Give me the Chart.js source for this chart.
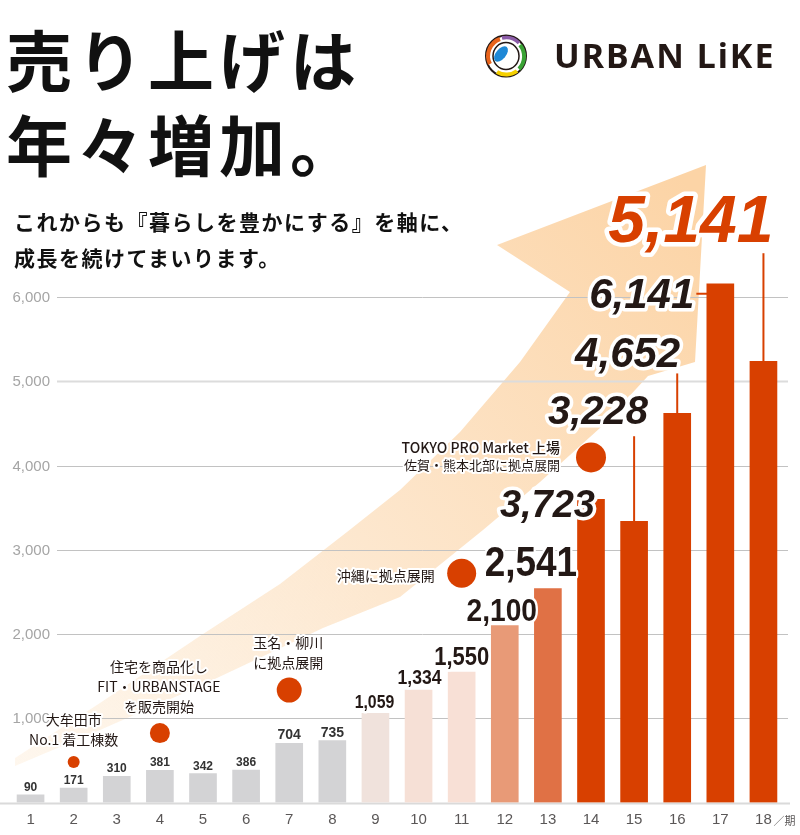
<!DOCTYPE html>
<html>
<head>
<meta charset="utf-8">
<script src="https://cdn.jsdelivr.net/npm/chart.js@4.4.0/dist/chart.umd.min.js"></script>
<style>
  body { margin: 0; background: #fff; }
  #wrap { position: relative; width: 800px; height: 835px; overflow: hidden; font-family: "Noto Sans CJK JP", sans-serif; color: #111; }
  #chart { position: absolute; left: 0; top: 0; }
  .title { position: absolute; left: 6px; top: 15px; font-size: 66px; font-weight: 700; line-height: 85px; letter-spacing: 5px; white-space: nowrap; }
  .lead { position: absolute; left: 14px; top: 203px; font-size: 21px; font-weight: 700; line-height: 36px; letter-spacing: 1.5px; white-space: nowrap; }
  .logo { position: absolute; left: 483px; top: 33px; }
  .brand { position: absolute; left: 554px; top: 32px; font-family: "Noto Sans", sans-serif; font-weight: 700; font-size: 34px; letter-spacing: 2px; color: #231815; }
</style>
</head>
<body>
<div id="wrap">
  <canvas id="chart" width="800" height="835"></canvas>
  <div class="title">売り上げは<br>年々増加。</div>
  <div class="lead">これからも『暮らしを豊かにする』を軸に、<br>成長を続けてまいります。</div>
  <svg class="logo" width="46" height="46" viewBox="0 0 46 46">
    <ellipse cx="23" cy="23" rx="20" ry="20.5" fill="#fff" stroke="#231815" stroke-width="2"/>
    <path d="M7 31 A18 18 0 0 1 17 6" fill="none" stroke="#e8641c" stroke-width="4"/>
    <path d="M19 5 A18 18 0 0 1 36 10" fill="none" stroke="#8b5ca8" stroke-width="3.5"/>
    <path d="M37 12 A18 18 0 0 1 36 36" fill="none" stroke="#3aa335" stroke-width="4"/>
    <path d="M34 38 A18 18 0 0 1 14 39" fill="none" stroke="#f5d000" stroke-width="4"/>
    <ellipse cx="23" cy="23" rx="13" ry="13.5" fill="none" stroke="#231815" stroke-width="1.5"/>
    <ellipse cx="18" cy="21" rx="5" ry="9" transform="rotate(40 18 21)" fill="#1e88d6"/>
  </svg>
  <div class="brand">URBAN LiKE</div>
</div>
<script>
// 期ごとの売上（百万円）
const periods = ['1', '2', '3', '4', '5', '6', '7', '8', '9', '10', '11', '12', '13', '14', '15', '16', '17', '18'];
const sales = [90, 171, 310, 381, 342, 386, 704, 735, 1059, 1334, 1550, 2100, 2541, 3600, 3340, 4620, 6160, 5240];
const salesLabels = ['90', '171', '310', '381', '342', '386', '704', '735', '1,059', '1,334', '1,550', '2,100', '2,541', '3,723', '3,228', '4,652', '6,141', '5,141'];
const yTicks = [1000, 2000, 3000, 4000, 5000, 6000];

// 出来事（丸印）
const milestoneValues = [null, 480, null, 824, null, null, 1335, null, null, null, 2722, null, null, 4098, null, null, null, null];
const milestoneNotes = [
  null,
  ['大牟田市', 'No.1 着工棟数'],
  null,
  ['住宅を商品化し', 'FIT・URBANSTAGE', 'を販売開始'],
  null, null,
  ['玉名・柳川', 'に拠点展開'],
  null, null, null,
  ['沖縄に拠点展開'],
  null, null,
  ['TOKYO PRO Market 上場', '佐賀・熊本北部に拠点展開'],
  null, null, null, null
];

// 見た目
const barColors = ['#d3d3d5', '#d3d3d5', '#d3d3d5', '#d3d3d5', '#d3d3d5', '#d3d3d5', '#d3d3d5', '#d3d3d5',
  '#f0e2dc', '#f6e0d6', '#f8e0d6', '#e89a77', '#e07145', '#d84000', '#d84000', '#d84000', '#d84000', '#d84000'];
const markerRadius = [0, 6, 0, 10, 0, 0, 12.5, 0, 0, 0, 14.5, 0, 0, 15, 0, 0, 0, 0];
const RED = '#d84000';
const INK = '#231815';

// ラベル位置（棒の中心・上端からのずれ）
const smallLabelStyle = [
  [12, 0, -4], [12, 0, -4], [12, 0, -4], [12, 0, -4], [12, 0, -4], [12, 0, -4],
  [14, 0, -4], [14, 0, -4], [18, -1, -5], [20, 1, -6], [25, 0, -7], [32, -3, -5], [42, -17, -13]
];
// [size, dxRight, dyBaseline, color, leader]
const bigLabelStyle = {
  13: [38, 4, 18, INK, null],
  14: [40, 14, -97, INK, ['v', -85]],
  15: [42, 3, -46, INK, ['v', -40]],
  16: [42, -26, 24, INK, ['h', 10]],
  17: [66, 10, -119, RED, ['v', -108]]
};
const noteOffsets = {
  1: ['center', 0, [-42, -22]],
  3: ['center', -1, [-66, -46, -26]],
  6: ['center', -1, [-47, -27]],
  10: ['right', -27, [2]],
  13: ['right', -31, [-10, 8]]
};

function drawArrow(ctx) {
  const upper = [[15, 758], [100, 703], [200, 636], [280, 584], [347, 532], [400, 490], [460, 432], [520, 362], [570, 292]];
  const lower = [[648, 376], [600, 428], [540, 482], [483, 530], [400, 597], [323, 628], [200, 686], [100, 730], [15, 766]];
  const g = ctx.createLinearGradient(0, 780, 700, 200);
  g.addColorStop(0, 'rgba(253,236,215,0.4)');
  g.addColorStop(0.45, '#fde8d0');
  g.addColorStop(1, '#fcd4a6');
  ctx.save();
  ctx.fillStyle = g;
  ctx.beginPath();
  upper.forEach((p, i) => i ? ctx.lineTo(p[0], p[1]) : ctx.moveTo(p[0], p[1]));
  ctx.lineTo(497, 245);
  ctx.lineTo(706, 165);
  ctx.lineTo(695, 362);
  lower.forEach(p => ctx.lineTo(p[0], p[1]));
  ctx.closePath();
  ctx.fill();
  ctx.restore();
}

function outlinedText(ctx, text, x, y, font, color, halo, sx) {
  ctx.save();
  ctx.translate(x, y);
  ctx.scale(sx || 1, 1);
  ctx.font = font;
  ctx.lineJoin = 'round';
  if (halo) {
    ctx.strokeStyle = '#fff';
    ctx.lineWidth = halo;
    ctx.strokeText(text, 0, 0);
  }
  ctx.fillStyle = color;
  ctx.fillText(text, 0, 0);
  ctx.restore();
}

const decor = {
  id: 'decor',
  beforeDatasetsDraw(chart) {
    const ctx = chart.ctx;
    const y = chart.scales.y;
    drawArrow(ctx);
    ctx.save();
    yTicks.forEach(v => {
      const py = Math.round(y.getPixelForValue(v)) + 0.5;
      ctx.strokeStyle = v === 5000 ? '#dcdcdc' : '#c2c2c2';
      ctx.lineWidth = v === 5000 ? 2 : 1;
      ctx.beginPath();
      ctx.moveTo(57, py);
      ctx.lineTo(788, py);
      ctx.stroke();
      ctx.fillStyle = '#a5a5a5';
      ctx.font = '15px "Liberation Sans", Arial, sans-serif';
      ctx.textAlign = 'right';
      ctx.textBaseline = 'middle';
      ctx.fillText(v.toLocaleString('en-US'), 50, py);
    });
    const base = y.getPixelForValue(0) + 1;
    ctx.strokeStyle = '#dadada';
    ctx.lineWidth = 2;
    ctx.beginPath();
    ctx.moveTo(0, base);
    ctx.lineTo(790, base);
    ctx.stroke();
    ctx.restore();
  },
  afterDatasetsDraw(chart) {
    const ctx = chart.ctx;
    const bars = chart.getDatasetMeta(1).data;
    const points = chart.getDatasetMeta(0).data;
    ctx.save();

    // x軸ラベル
    ctx.textBaseline = 'middle';
    bars.forEach((b, i) => {
      ctx.fillStyle = '#5a5757';
      ctx.font = '15px "Liberation Sans", Arial, sans-serif';
      ctx.textAlign = 'center';
      ctx.fillText(periods[i], b.x, 820);
      if (i === periods.length - 1) {
        ctx.textAlign = 'left';
        ctx.font = '11px "Noto Sans CJK JP", sans-serif';
        ctx.fillText('／期', b.x + 10, 821);
      }
    });

    // 出来事の文字
    ctx.textBaseline = 'middle';
    Object.keys(noteOffsets).forEach(k => {
      const i = +k;
      const p = points[i];
      const [align, dx, dys] = noteOffsets[k];
      ctx.textAlign = align;
      milestoneNotes[i].forEach((line, j) => {
        const size = (i === 13 && j === 1) ? 13 : 14;
        const weight = (i === 13 && j === 0) ? '500 ' : '';
        outlinedText(ctx, line, p.x + dx, p.y + dys[j], weight + size + 'px "Noto Sans CJK JP", sans-serif', INK, 4);
      });
    });

    // 棒ラベル 1〜13期
    ctx.textBaseline = 'alphabetic';
    ctx.textAlign = 'center';
    smallLabelStyle.forEach((s, i) => {
      const b = bars[i];
      const [size, dx, dy] = s;
      const big = size >= 18;
      outlinedText(ctx, salesLabels[i], b.x + dx, b.y + dy,
        'bold ' + size + 'px "Liberation Sans", Arial, sans-serif',
        i < 8 ? '#333' : INK, big ? 5 : 0, big ? 0.88 : 1);
    });

    // 棒ラベル 14〜18期
    ctx.textAlign = 'right';
    Object.keys(bigLabelStyle).forEach(k => {
      const i = +k;
      const b = bars[i];
      const [size, dx, dy, color, leader] = bigLabelStyle[k];
      if (leader) {
        ctx.strokeStyle = RED;
        ctx.lineWidth = 2;
        ctx.beginPath();
        if (leader[0] === 'v') {
          ctx.moveTo(b.x, b.y + leader[1]);
          ctx.lineTo(b.x, b.y);
        } else {
          ctx.moveTo(b.x - 24, b.y + leader[1]);
          ctx.lineTo(b.x - 13, b.y + leader[1]);
        }
        ctx.stroke();
      }
      outlinedText(ctx, salesLabels[i], b.x + dx, b.y + dy,
        'italic bold ' + size + 'px "Liberation Sans", Arial, sans-serif',
        color, size > 50 ? 9 : 7, 1);
    });
    ctx.restore();
  }
};

new Chart(document.getElementById('chart').getContext('2d'), {
  type: 'bar',
  data: {
    labels: periods,
    datasets: [
      {
        type: 'line',
        label: '出来事',
        data: milestoneValues,
        showLine: false,
        order: 1,
        pointRadius: ctx => markerRadius[ctx.dataIndex],
        pointHoverRadius: ctx => markerRadius[ctx.dataIndex],
        pointBackgroundColor: RED,
        pointBorderWidth: 0
      },
      {
        type: 'bar',
        label: '売上',
        data: sales,
        order: 2,
        backgroundColor: barColors,
        barThickness: 27
      }
    ]
  },
  options: {
    responsive: false,
    animation: false,
    events: [],
    layout: { padding: { left: 9, right: 15, top: 213, bottom: 32.5 } },
    plugins: { legend: { display: false }, tooltip: { enabled: false } },
    scales: {
      x: { display: false, offset: true },
      y: { display: false, min: 0, max: 7000 }
    }
  },
  plugins: [decor]
});
</script>
</body>
</html>
